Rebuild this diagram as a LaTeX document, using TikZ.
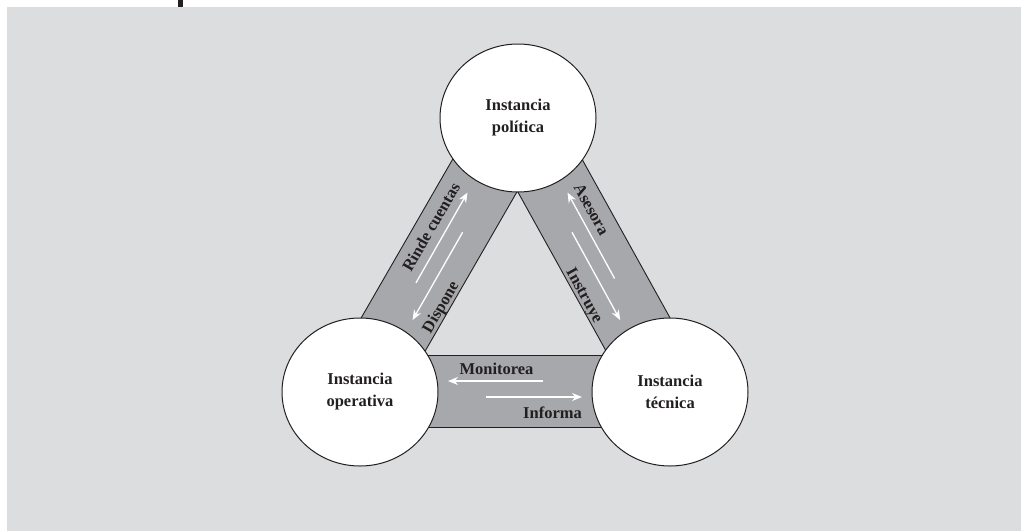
\documentclass[tikz,border=0pt]{standalone}
\usepackage{fontspec}
\setmainfont{Liberation Serif}
\usetikzlibrary{shapes.geometric,calc,arrows.meta}
\definecolor{bgray}{RGB}{220,221,223}
\definecolor{bandgray}{RGB}{167,168,171}
\definecolor{inkline}{RGB}{35,31,32}
\begin{document}
\begin{tikzpicture}[x=1pt,y=-1pt,
  inst/.style={ellipse, draw=inkline, line width=1pt, fill=white, minimum width=156pt, minimum height=148pt, inner sep=0pt, align=center, text=inkline, font=\fontsize{16.5}{22}\selectfont\bfseries},
  band/.style={fill=bandgray, draw=inkline, line width=0.9pt},
  lbl/.style={font=\fontsize{16.5}{20}\selectfont\bfseries, inner sep=0pt, text=inkline},
  flow/.style={draw=white, line width=1.3pt, -{Stealth[length=10pt,width=8pt]}}]
\fill[bgray] (7,7) rectangle (1021,531);
\path[use as bounding box] (0,0) rectangle (1021,531);
\fill[inkline] (178,0) rectangle (183,7);
\coordinate (cT) at (518,118);
\coordinate (cL) at (360,392);
\coordinate (cR) at (670,392);
% bands
\draw[band] ($(cL)!36pt!90:(cT)$) -- ($(cT)!36pt!-90:(cL)$) -- ($(cT)!36pt!90:(cL)$) -- ($(cL)!36pt!-90:(cT)$) -- cycle;
\draw[band] ($(cR)!36pt!90:(cT)$) -- ($(cT)!36pt!-90:(cR)$) -- ($(cT)!36pt!90:(cR)$) -- ($(cR)!36pt!-90:(cT)$) -- cycle;
\draw[band] ($(cL)+(0,-37)$) rectangle ($(cR)+(0,35)$);
% circles
\node[inst] (pol) at (cT) {Instancia\\política};
\node[inst] (ope) at (cL) {Instancia\\operativa};
\node[inst] (tec) at (cR) {Instancia\\técnica};
% left band
\node[lbl, rotate=60.03] (rinde) at (431,227) {Rinde cuentas};
\node[lbl, rotate=60.03] (disp) at (441.5,307.5) {Dispone};
\coordinate (rcs) at (416,282.8);
\coordinate (rce) at (467.5,192.5);
\coordinate (dis) at (462.6,232.3);
\coordinate (die) at (412.6,320);
\draw[flow] (rcs) -- (rce);
\draw[flow] (dis) -- (die);
% right band
\node[lbl, rotate=-61] (ases) at (591.5,209.5) {Asesora};
\node[lbl, rotate=-61] (instr) at (583.5,296) {Instruye};
\coordinate (ass) at (614.6,278.5);
\coordinate (ase) at (567.5,192.6);
\coordinate (ins) at (572,232.3);
\coordinate (ine) at (620.1,320);
\draw[flow] (ass) -- (ase);
\draw[flow] (ins) -- (ine);
% bottom band
\node[lbl] (mon) at (496.5,368.5) {Monitorea};
\node[lbl] (inf) at (552.5,412.5) {Informa};
\coordinate (mos) at (543,381);
\coordinate (moe) at (448,381);
\coordinate (ifs) at (486,397);
\coordinate (ife) at (582,397);
\draw[flow] (mos) -- (moe);
\draw[flow] (ifs) -- (ife);
\end{tikzpicture}
\end{document}
